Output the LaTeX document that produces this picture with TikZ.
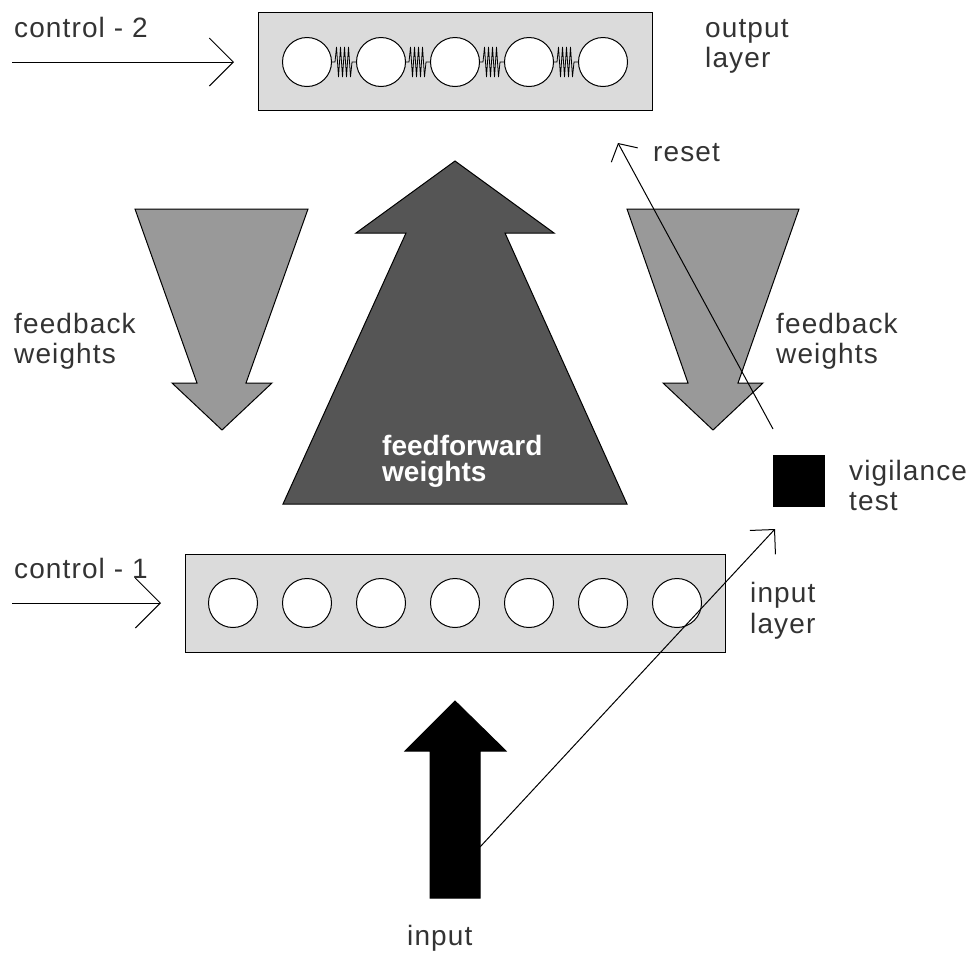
\documentclass[tikz,border=0pt]{standalone}
\usepackage{fontspec}
\setmainfont{Liberation Sans}[LetterSpace=4]
\newfontfamily\boldsans{Liberation Sans}
\usetikzlibrary{arrows.meta}
\definecolor{boxgray}{gray}{0.86}
\definecolor{fbgray}{gray}{0.6}
\definecolor{ffgray}{gray}{0.333}
\definecolor{txtgray}{gray}{0.2}
\begin{document}
\begin{tikzpicture}[x=1pt,y=-1pt,
  layerbox/.style={draw=black, fill=boxgray, line width=1pt, inner sep=0pt},
  unit/.style={circle, draw=black, fill=white, minimum size=49pt, inner sep=0pt, line width=1pt},
  lbl/.style={anchor=base west, inner sep=0pt, text=txtgray, font=\fontsize{28}{30}\selectfont},
  fflbl/.style={anchor=base west, inner sep=0pt, text=white, font=\boldsans\bfseries\fontsize{28}{28}\selectfont},
  fbarrow/.style={fill=fbgray, draw=black, line width=1pt, line join=miter},
  ffarrow/.style={fill=ffgray, draw=black, line width=1pt, line join=miter},
  inarrow/.style={fill=black, draw=black, line width=1pt},
  thinline/.style={draw=black, line width=1pt},
  spring/.style={draw=black, line width=0.8pt}
]
\useasboundingbox (0,0) rectangle (975,954);

% big arrows
\path[fbarrow] (135,209) -- (308,209) -- (246,383) -- (272,383) -- (222,430) -- (172,383) -- (197,383) -- cycle;
\path[fbarrow] (627,209) -- (799,209) -- (738,383) -- (763,383) -- (713,430) -- (663,383) -- (688,383) -- cycle;
\path[ffarrow] (455,161) -- (554,233) -- (505,233) -- (627,504) -- (283,504) -- (406,233) -- (356,233) -- cycle;
\path[inarrow] (455,701) -- (506,751) -- (480,751) -- (480,898) -- (430,898) -- (430,751) -- (405,751) -- cycle;

% output layer
\node[layerbox, minimum width=394pt, minimum height=98pt] (outbox) at (455,61) {};
\foreach \k in {1,...,5} {
  \node[unit] (o\k) at ({307+74*(\k-1)},62) {};
}
\foreach \a/\b in {1/2,2/3,3/4,4/5} {
  \draw[spring] (o\a.east) -- ++(3,0) -- ++(1.5,-15) -- ++(2,30) -- ++(2,-30) -- ++(2,30)
     -- ++(2,-30) -- ++(2,30) -- ++(2,-30) -- ++(2,30) -- ++(1.5,-15) -- (o\b.west);
}

% input layer
\node[layerbox, minimum width=540pt, minimum height=98pt] (inbox) at (455,603) {};
\foreach \k in {1,...,7} {
  \node[unit] (i\k) at ({233+74*(\k-1)},603) {};
}

% vigilance square
\node[draw=black, fill=black, minimum size=51pt, inner sep=0pt] (vig) at (798.5,480.5) {};

% connector coordinates
\coordinate (c2s) at (12,62);
\coordinate (c2e) at (234,62);
\coordinate (c1s) at (12,603);
\coordinate (c1e) at (161,603);
\coordinate (vigin) at (775,529);
\coordinate (inpt) at (480,847);
\coordinate (rs) at (773,429);
\coordinate (re) at (618,143);

\draw[thinline, -{Straight Barb[length=24pt,width=48pt]}] (c2s) -- (c2e);
\draw[thinline, -{Straight Barb[length=25pt,width=50pt]}] (c1s) -- (c1e);
\draw[thinline, -{Straight Barb[length=17.5pt,width=35pt]}] (inpt) -- (vigin);
\draw[thinline, -{Straight Barb[length=13pt,width=30pt]}] (rs) -- (re);

% labels
\node[lbl] (tc2) at (14,37) {control - 2};
\node[lbl] (tc1) at (14,578) {control - 1};
\node[lbl] (tout1) at (705,37) {output};
\node[lbl] (tout2) at (705,67) {layer};
\node[lbl] (treset) at (653,161) {reset};
\node[lbl] (tfbl1) at (14,333) {feedback};
\node[lbl] (tfbl2) at (14,363) {weights};
\node[lbl] (tfbr1) at (776,333) {feedback};
\node[lbl] (tfbr2) at (776,363) {weights};
\node[fflbl] (tff1) at (382,455) {feedforward};
\node[fflbl] (tff2) at (382,481) {weights};
\node[lbl] (tvig1) at (849,480) {vigilance};
\node[lbl] (tvig2) at (849,510) {test};
\node[lbl] (tin1) at (750,602) {input};
\node[lbl] (tin2) at (750,633) {layer};
\node[lbl] (tinput) at (407,945) {input};
\end{tikzpicture}
\end{document}
